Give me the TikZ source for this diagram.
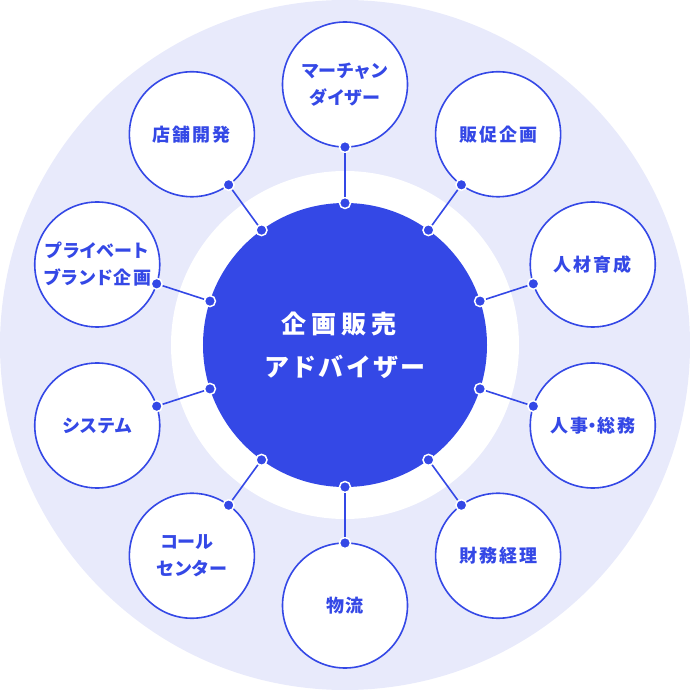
\documentclass[tikz,border=0pt]{standalone}
\usepackage{fontspec}
\setmainfont{Noto Sans CJK JP}
\definecolor{mainblue}{HTML}{3448E6}
\definecolor{lav}{HTML}{E8EAFB}
\newcommand\knS[1]{{\addfontfeature{LetterSpace=-3}#1}}
\newcommand\knL[1]{{\addfontfeature{LetterSpace=9}#1}}
\newcommand\middot{\kern-4.5pt・\kern-4.5pt}
\begin{document}
\begin{tikzpicture}[x=1pt,y=1pt,
  small/.style={circle, draw=mainblue, line width=1.6pt, fill=white, minimum size=125pt, inner sep=0pt, outer sep=0pt,
    font=\bfseries\fontsize{18}{27}\selectfont\addfontfeature{LetterSpace=11}, text=mainblue, align=center},
  center/.style={circle, fill=mainblue, minimum size=284pt, inner sep=0pt, outer sep=0pt,
    font=\bfseries\fontsize{25}{43}\selectfont\addfontfeature{LetterSpace=20}, text=white, align=center},
  dot/.style={circle, fill=mainblue, draw=white, line width=1.5pt, minimum size=11pt, inner sep=0pt},
  link/.style={draw=mainblue, line width=1.6pt}]
\useasboundingbox (-345pt,-345pt) rectangle (345pt,345pt);
\fill[lav] (0,0) circle (345pt);
\fill[white] (0,0) circle (174pt);
\node[center] (c) at (0,0) {企画販売\kern12pt\\\knL{アドバイザー}};
\node[small] (s1) at (90:260.5pt) {\knS{マーチャン}\\\knS{ダイザー}};
\node[small] (s2) at (54:260.5pt) {販促企画};
\node[small] (s3) at (18:260.5pt) {人材育成};
\node[small] (s4) at (-18:260.5pt) {人事\middot 総務};
\node[small] (s5) at (-54:260.5pt) {財務経理};
\node[small] (s6) at (-90:260.5pt) {物流};
\node[small] (s7) at (-126:260.5pt) {\knS{コール}\kern10pt\\\knS{センター}};
\node[small] (s8) at (-162:260.5pt) {\knS{システム}};
\node[small] (s9) at (162:260.5pt) {\knS{プライベート}\\\knS{ブランド}企画};
\node[small] (s10) at (126:260.5pt) {店舗開発};
\foreach \i/\a in {1/90,2/54,3/18,4/-18,5/-54,6/-90,7/-126,8/-162,9/162,10/126}{
  \node[dot] (di\i) at (c.\a) {};
  \node[dot] (do\i) at (s\i.\a+180) {};
  \draw[link] (di\i) -- (do\i);
}
\end{tikzpicture}
\end{document}
